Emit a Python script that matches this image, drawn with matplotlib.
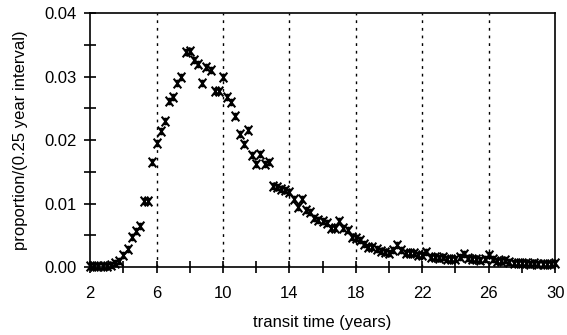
import numpy as np
import matplotlib
matplotlib.use("Agg")
import matplotlib.pyplot as plt
from matplotlib.path import Path

matplotlib.rcParams['font.family'] = ['Liberation Sans', 'DejaVu Sans']
matplotlib.rcParams['font.size'] = 12

# transit time (years), 0.25 year steps
t = np.arange(2.0, 30.01, 0.25)
# proportion per 0.25 year interval
p_early = [0.0001, 0.0001, 0.0001, 0.0002, 0.0002, 0.0003, 0.0006, 0.0009,
           0.0019, 0.0028, 0.0047, 0.0057, 0.0065, 0.0104, 0.0104, 0.0166]
p_peak = [0.0196, 0.0215, 0.0230, 0.0262, 0.0268, 0.0290, 0.0300, 0.0339,
          0.0341, 0.0327, 0.0320, 0.0290, 0.0315, 0.0310, 0.0278, 0.0278,
          0.0300, 0.0268, 0.0260, 0.0238, 0.0210, 0.0194, 0.0216, 0.0176,
          0.0163, 0.0179, 0.0163, 0.0166, 0.0128, 0.0126, 0.0123, 0.0121,
          0.0119, 0.0107, 0.0095, 0.0108, 0.0090]
p_decline = [0.0086, 0.0077, 0.0074, 0.0073, 0.0069, 0.0061, 0.0061, 0.0073,
             0.0062, 0.0058, 0.0048, 0.0045, 0.0042, 0.0037, 0.0032, 0.0032,
             0.0029, 0.0026, 0.0024, 0.0022, 0.0027, 0.0035, 0.0027, 0.0022,
             0.0022, 0.0022, 0.0019, 0.0019]
p_tail = [0.0024, 0.0016, 0.0015, 0.0014, 0.0015, 0.0012, 0.0013, 0.0012,
          0.0016, 0.0020, 0.0014, 0.0013, 0.0012, 0.0011, 0.0012, 0.0019,
          0.0012, 0.0010, 0.0009, 0.0011, 0.0008, 0.0007, 0.0006, 0.0007,
          0.0006, 0.0005, 0.0006, 0.0005, 0.0005, 0.0004, 0.0005, 0.0006]
p = np.array(p_early + p_peak + p_decline + p_tail)
t = t[:len(p)]

grid_x = [6, 10, 14, 18, 22, 26]

# asterisk-like marker: an x with a vertical bar
star = Path([(-0.55, -0.7), (0.55, 0.7), (-0.55, 0.7), (0.55, -0.7),
             (0, -0.55), (0, 0.55)],
            [Path.MOVETO, Path.LINETO, Path.MOVETO, Path.LINETO,
             Path.MOVETO, Path.LINETO])

fig = plt.figure(figsize=(5.67, 3.35), dpi=100)
ax = fig.add_axes([0.159, 0.203, 0.820, 0.757])

for gx in grid_x:
    ax.axvline(gx, color='k', lw=1, ls=(0, (2, 3.5)), zorder=1)

ax.plot(t, p, ls='none', marker=star, ms=7, mec='k', mfc='none', mew=1.5,
        zorder=3, clip_on=False)

ax.set_xlim(2, 30)
ax.set_ylim(0, 0.04)
ax.set_xticks(np.arange(2, 31, 4))
ax.set_xticks(np.arange(4, 30, 4), minor=True)
ax.set_yticks(np.arange(0, 0.041, 0.01))
ax.set_yticks(np.arange(0.005, 0.04, 0.01), minor=True)
ax.set_yticklabels(['0.00', '0.01', '0.02', '0.03', '0.04'])
ax.tick_params(which='both', direction='inout', width=1.2, length=9,
               top=False, right=False)
ax.tick_params(axis='x', pad=9)
ax.tick_params(axis='y', pad=5)
for s in ax.spines.values():
    s.set_linewidth(1.2)

ax.set_xlabel('transit time (years)', labelpad=10)
ax.set_ylabel('proportion/(0.25 year interval)', labelpad=12)

fig.savefig('out.png', dpi=100)
